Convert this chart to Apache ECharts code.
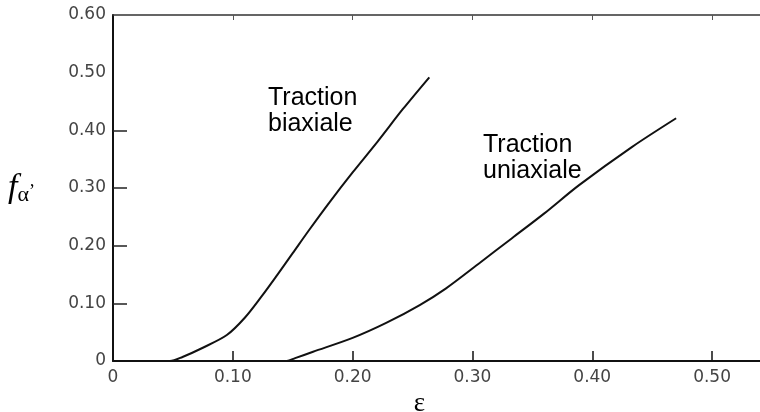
<!DOCTYPE html>
<html>
<head>
<meta charset="utf-8">
<script src="https://cdn.jsdelivr.net/npm/echarts@6/dist/echarts.min.js"></script>
<style>
  html, body { margin: 0; padding: 0; background: #fff; }
  #chart { width: 760px; height: 412px; }
</style>
</head>
<body>
<div id="chart"></div>
<script>
// values (strain eps, fraction f_alpha')
const biaxial = [
  [0, 0], [0.03, 0], [0.0475, 0], [0.058, 0.007], [0.075, 0.023], [0.095, 0.045],
  [0.11, 0.075], [0.124, 0.112], [0.137, 0.149], [0.15, 0.187], [0.164, 0.228],
  [0.181, 0.276], [0.2, 0.327], [0.221, 0.381], [0.242, 0.437], [0.264, 0.492]
]
const uniaxial = [
  [0.1, 0], [0.145, 0], [0.152, 0.005], [0.167, 0.016], [0.2, 0.04], [0.228, 0.066],
  [0.256, 0.097], [0.278, 0.126], [0.306, 0.17], [0.333, 0.213], [0.36, 0.256],
  [0.389, 0.305], [0.433, 0.371], [0.47, 0.421]
]
const xTicks = [0, 0.1, 0.2, 0.3, 0.4, 0.5]
const xTickLabels = ['0', '0.10', '0.20', '0.30', '0.40', '0.50']
const yTicks = [0, 0.1, 0.2, 0.3, 0.4, 0.5, 0.6]
const yTickLabels = ['0', '0.10', '0.20', '0.30', '0.40', '0.50', '0.60']
const curveNames = ['Traction\nbiaxiale', 'Traction\nuniaxiale']

const labelFont = {
  fontFamily: 'DejaVu Sans',
  fontSize: 17,
  color: '#444'
}

const myChart = echarts.init(document.getElementById('chart'))

myChart.setOption({
  animation: false,
  backgroundColor: '#fff',
  grid: {
    left: 113,
    right: 0,
    top: 15,
    bottom: 51,
    outerBoundsMode: 'none'
  },
  xAxis: [
    {
      type: 'value',
      min: 0,
      max: 0.54,
      name: 'ε',
      nameLocation: 'middle',
      nameGap: 25,
      nameTextStyle: {
        fontFamily: 'Liberation Serif',
        fontSize: 27,
        color: '#000',
        padding: [0, 34, 0, 0]
      },
      axisLine: { lineStyle: { color: '#111', width: 2 } },
      axisTick: {
        inside: true,
        length: 10,
        customValues: xTicks.slice(1),
        lineStyle: { color: '#111', width: 1.5 }
      },
      axisLabel: {
        customValues: xTicks,
        margin: 8,
        ...labelFont,
        formatter: (v) => xTickLabels[xTicks.indexOf(v)]
      },
      splitLine: { show: false }
    },
    {
      type: 'value',
      position: 'top',
      min: 0,
      max: 0.54,
      axisLine: { show: true, lineStyle: { color: '#333', width: 1.5 } },
      axisTick: {
        show: true,
        inside: true,
        length: 5,
        customValues: xTicks.slice(1),
        lineStyle: { color: '#555', width: 1 }
      },
      axisLabel: { show: false },
      splitLine: { show: false }
    }
  ],
  yAxis: {
    type: 'value',
    min: 0,
    max: 0.6,
    name: '{f|f}{a|α}{p|’}',
    nameLocation: 'middle',
    nameRotate: 0,
    nameGap: 78,
    nameTextStyle: {
      rich: {
        f: { fontFamily: 'Liberation Serif', fontStyle: 'italic', fontSize: 34, color: '#000' },
        a: { fontFamily: 'Liberation Serif', fontSize: 22, color: '#000', padding: [14, 0, 0, 0] },
        p: { fontFamily: 'Liberation Serif', fontSize: 18, color: '#000', padding: [8, 0, 0, 0] }
      }
    },
    axisLine: { show: true, lineStyle: { color: '#111', width: 2 } },
    axisTick: {
      inside: true,
      length: 14,
      customValues: [0.1, 0.2, 0.3, 0.4],
      lineStyle: { color: '#222', width: 1.5 }
    },
    axisLabel: {
      customValues: yTicks,
      margin: 7,
      ...labelFont,
      formatter: (v) => yTickLabels[yTicks.indexOf(v)]
    },
    splitLine: { show: false }
  },
  graphic: [
    {
      type: 'text',
      left: 268,
      top: 85,
      style: {
        text: curveNames[0],
        fontFamily: 'Liberation Sans',
        fontSize: 25,
        lineHeight: 26,
        fill: '#000'
      }
    },
    {
      type: 'text',
      left: 483,
      top: 132,
      style: {
        text: curveNames[1],
        fontFamily: 'Liberation Sans',
        fontSize: 25,
        lineHeight: 26,
        fill: '#000'
      }
    }
  ],
  series: [
    {
      name: 'biaxiale',
      type: 'line',
      data: biaxial,
      symbol: 'none',
      smooth: 0.3,
      lineStyle: { color: '#111', width: 2 },
      emphasis: { disabled: true }
    },
    {
      name: 'uniaxiale',
      type: 'line',
      data: uniaxial,
      symbol: 'none',
      smooth: 0.3,
      lineStyle: { color: '#111', width: 2 },
      emphasis: { disabled: true }
    }
  ]
})
</script>
</body>
</html>
